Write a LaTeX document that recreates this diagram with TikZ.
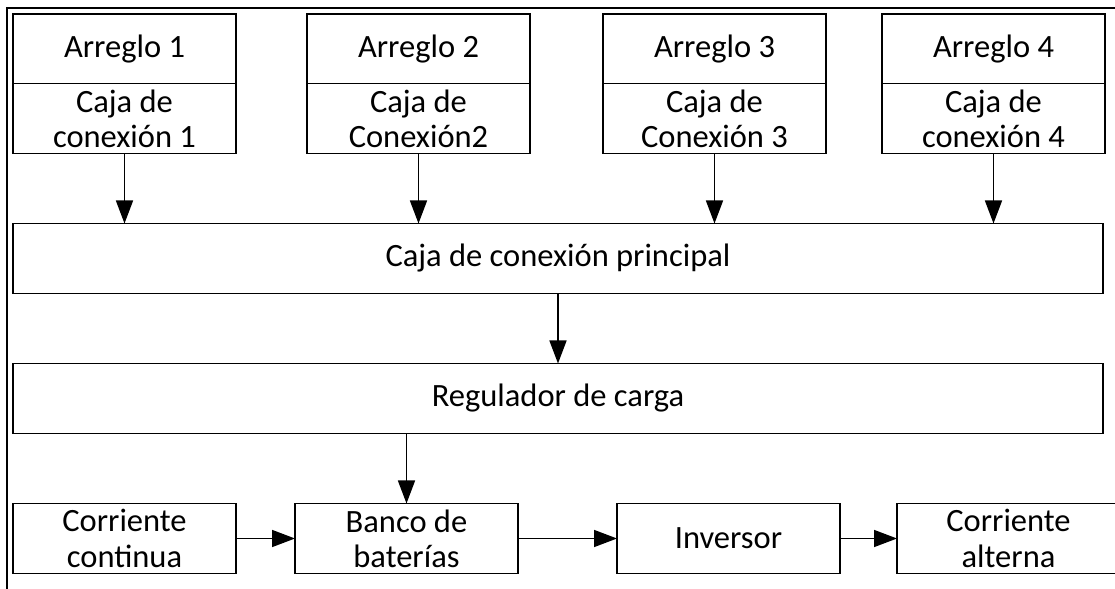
\documentclass[tikz,border=0pt]{standalone}
\usepackage{fontspec}
\setmainfont{Carlito}
\usepackage{tikz}
\usetikzlibrary{arrows.meta,positioning}

\begin{document}
\begin{tikzpicture}[->,>={Triangle[length=0.46cm,width=0.34cm]},node distance=1.4cm,line width=0.9pt]
\tikzstyle{box}=[draw=black,text=black,rectangle,minimum width=4.46cm,minimum height=1.4cm,
  inner sep=0pt,outer sep=0pt,align=center,font=\fontsize{18.5}{20}\selectfont]
\tikzstyle{wide}=[box,minimum width=21.8cm]
\useasboundingbox (0,0) rectangle (22.3,-11.78);
\draw[-] (0.14,-11.9) -- (0.14,-0.16) -- (22.4,-0.16);
% paneles y cajas de conexion
\node[box,minimum height=1.39cm,anchor=north west] (A1) at (0.26,-0.28) {Arreglo 1};
\node[box][below=0cm of A1](C1){Caja de\\conexión 1};
\node[box,minimum height=1.39cm][right=1.42cm of A1](A2){Arreglo 2};
\node[box][below=0cm of A2](C2){Caja de\\Conexión2};
\node[box,minimum height=1.39cm][right=1.46cm of A2](A3){Arreglo 3};
\node[box][below=0cm of A3](C3){Caja de\\Conexión 3};
\node[box,minimum height=1.39cm][right=1.12cm of A3](A4){Arreglo 4};
\node[box][below=0cm of A4](C4){Caja de\\conexión 4};
% cajas centrales
\node[wide][below=1.4cm of C1.south west,anchor=north west](P){Caja de conexión principal};
\node[wide][below=1.4cm of P](R){Regulador de carga};
% fila inferior
\node[box][below=1.4cm of R.south west,anchor=north west](CC){Corriente\\continua};
\node[box][right=1.18cm of CC](B){Banco de\\baterías};
\node[box][right=1.98cm of B](I){Inversor};
\node[box][right=1.14cm of I](CA){Corriente\\alterna};
\path (C1)edge(C1 |- P.north)
      (C2)edge(C2 |- P.north)
      (C3)edge(C3 |- P.north)
      (C4)edge(C4 |- P.north)
      (P)edge(R)
      (R.south -| B)edge(B)
      (CC)edge(B)
      (B)edge(I)
      (I)edge(CA);
\end{tikzpicture}
\end{document}
